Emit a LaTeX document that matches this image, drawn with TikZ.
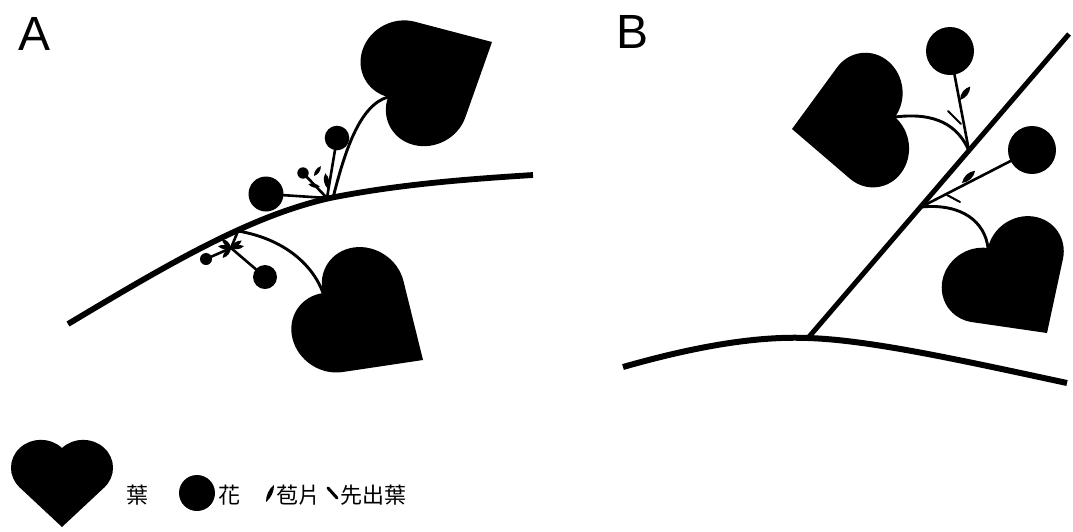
\documentclass[tikz,border=0pt]{standalone}
\usepackage{fontspec}
\setmainfont{Liberation Sans}
\newfontfamily\cjk{Noto Sans CJK TC}

% heart-shaped leaf: tip at #1, turned by #2 degrees, size #3, width factor #4
\newcommand\leafheart[4]{%
  \fill[shift={(#1)},rotate=#2,xscale=#4,x=#3pt,y=#3pt]
    (0,0) -- (-1,1) arc[start angle=225,end angle=45,radius=0.7071]
    arc[start angle=135,end angle=-45,radius=0.7071] -- cycle;}

\tikzset{
  bractleaf/.pic={\fill (0,0) .. controls (0.3,0.22) and (0.7,0.22) .. (1,0)
                          .. controls (0.7,-0.22) and (0.3,-0.22) .. (0,0);},
  mainstem/.style={line width=5.8pt},
  diagstem/.style={line width=5pt},
  petiole/.style={line width=2.9pt},
  stalk/.style={line width=2.6pt},
  prophyll/.style={line width=2pt,line cap=round},
  panel/.style={font=\fontsize{48}{48}\selectfont,anchor=base,inner sep=0pt},
  legend/.style={font=\cjk\fontsize{22}{26}\selectfont,inner sep=0pt},
}

\begin{document}
\begin{tikzpicture}[x=1pt,y=-1pt]
\fill[white] (0,0) rectangle (1073,531);
\useasboundingbox (0,0) rectangle (1073,531);

% ---------------- panel A ----------------
\node[panel] (labA) at (35,50) {A};

\coordinate (a-s0) at (68,324);
\coordinate (a-s1) at (330,198);
\coordinate (a-s2) at (533,175);
\coordinate (a-j1) at (333,198);
\coordinate (a-j2) at (327,198);
\coordinate (a-j3) at (238,231);
\coordinate (a-n1) at (388,97);
\coordinate (a-n2) at (323,293);
\coordinate (a-w)  at (231,248);
\coordinate (a-f1) at (266,194);
\coordinate (a-f2) at (337,138);
\coordinate (a-f3) at (303,173);
\coordinate (a-f4) at (206,259);
\coordinate (a-f5) at (265,277);

\draw[mainstem] (a-s0) .. controls (170,263) and (250,216) .. (a-s1)
                .. controls (400,184) and (470,179) .. (a-s2);

% upper side shoot
\draw[petiole] (a-j1) .. controls (345,150) and (360,105) .. (a-n1);
\draw[stalk] (a-f1) -- (a-j2);
\draw[stalk] (a-f2) -- (a-j2);
\draw[stalk] (a-f3) -- (a-j2);
\fill (a-f1) circle[radius=17.5pt];
\fill (a-f2) circle[radius=12.3pt];
\fill (a-f3) circle[radius=5.7pt];
\path (314,176) pic[rotate=55,scale=12]{bractleaf};
\path (328,189) pic[rotate=100,scale=16]{bractleaf};
\path (320,187) pic[rotate=166,scale=12]{bractleaf};
\path (330,198) pic[rotate=175,scale=11]{bractleaf};
\leafheart{492,42}{117.9}{58.8}{0.92}

% lower side shoot
\draw[petiole] (a-j3) .. controls (290,240) and (315,270) .. (a-n2);
\draw[stalk] (a-j3) -- (a-w);
\draw[stalk] (a-f4) -- (a-w);
\draw[stalk] (a-w) -- (a-f5);
\fill (a-f4) circle[radius=6pt];
\fill (a-f5) circle[radius=12pt];
\foreach \ang in {172,135,35,8,-130}
  \path (a-w) pic[rotate=\ang,scale=13]{bractleaf};
\leafheart{423,360}{56.2}{60.2}{0.91}

% ---------------- panel B ----------------
\node[panel] (labB) at (632,48) {B};

\coordinate (b-s0) at (623,367);
\coordinate (b-j0) at (808,338);
\coordinate (b-s1) at (1067,383);
\coordinate (b-top) at (1069,34);
\coordinate (b-j1) at (969,151);
\coordinate (b-j2) at (921,207);
\coordinate (b-n1) at (895,117);
\coordinate (b-n2) at (988,248);
\coordinate (b-f1) at (950,51);
\coordinate (b-f2) at (1032,150);

\draw[mainstem,line width=6pt] (b-s0) .. controls (700,345) and (760,336) .. (b-j0)
                .. controls (870,340) and (960,360) .. (b-s1);
\draw[diagstem] (b-j0) -- (b-top);

% upper side shoot
\draw[petiole] (b-n1) .. controls (935,112) and (958,125) .. (b-j1);
\draw[stalk] (b-f1) -- (b-j1);
\fill (b-f1) circle[radius=24pt];
\path (960,100) pic[rotate=53,scale=17]{bractleaf};
\coordinate (b-p1) at (948,111);
\draw[prophyll] (961,124) -- (b-p1);
\leafheart{792,129}{-83.4}{51.8}{1.08}

% lower side shoot
\draw[petiole] (b-j2) .. controls (962,203) and (985,222) .. (b-n2);
\draw[stalk] (b-j2) -- (b-f2);
\fill (b-f2) circle[radius=24pt];
\path (962,183) pic[rotate=43,scale=18]{bractleaf};
\coordinate (b-p2) at (960,202);
\draw[prophyll] (947,195) -- (b-p2);
\leafheart{1047,333}{34.8}{51.7}{1.07}

% ---------------- legend ----------------
\leafheart{62,527}{0}{39.5}{1.07}
\node[legend] (l-leaf) at (137,495) {葉};
\fill (197,493) circle[radius=18pt];
\node[legend] (l-flower) at (229,495) {花};
\path (266,502) pic[rotate=65,scale=19,yscale=0.7]{bractleaf};
\node[legend] (l-bract) at (298,495) {苞片};
\draw[line width=3pt,line cap=round] (328,488) -- (337,498);
\node[legend] (l-proph) at (373,495) {先出葉};
\end{tikzpicture}
\end{document}
